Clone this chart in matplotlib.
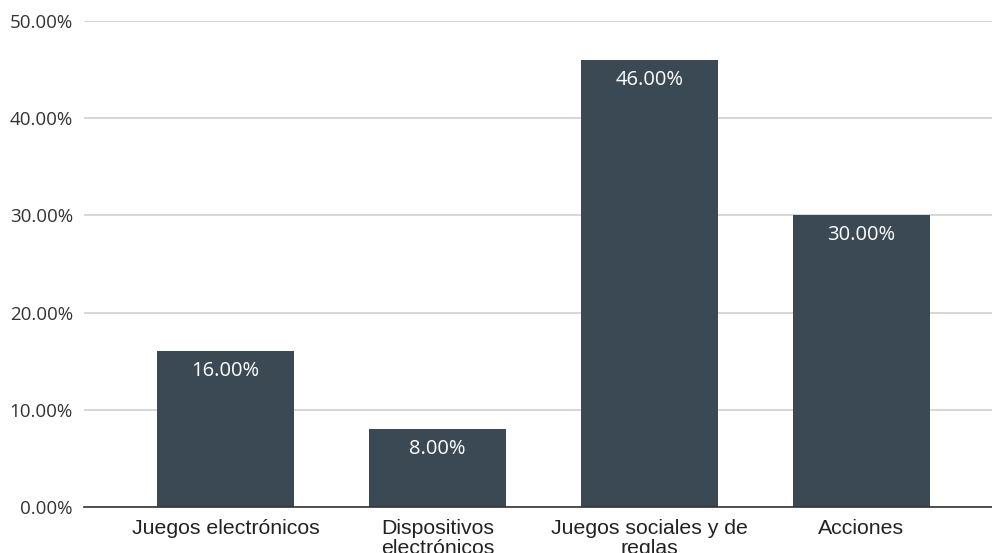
import matplotlib.pyplot as plt
import numpy as np

categorias = ['Juegos electrónicos', 'Dispositivos\nelectrónicos',
              'Juegos sociales y de\nreglas', 'Acciones']
valores = [16.0, 8.0, 46.0, 30.0]
ticks_y = [0, 10, 20, 30, 40, 50]

color_barra = '#3b4955'

fig = plt.figure(figsize=(9.92, 5.53), dpi=100)
ax = fig.add_axes([84 / 992, 1 - 507 / 553, 1 - 84 / 992, (507 - 21) / 553])

x = np.arange(len(categorias))
barras = ax.bar(x, valores, width=0.646, color=color_barra, zorder=3)

for b, v in zip(barras, valores):
    ax.text(b.get_x() + b.get_width() / 2, v - 1.0, f'{v:.2f}%',
            ha='center', va='top', color='white', fontsize=14.5,
            family='Open Sans', zorder=4)

ax.set_xlim(-0.667, 3.616)
ax.set_ylim(0, 50)
ax.set_yticks(ticks_y)
ax.set_yticklabels([f'{t:.2f}%' for t in ticks_y], family='Open Sans',
                   fontsize=13.5, color='#333333')
ax.set_xticks(x)
ax.set_xticklabels(categorias, family='Liberation Sans', fontsize=15.3,
                   color='#222222', linespacing=1.05)
ax.tick_params(axis='both', length=0)
ax.tick_params(axis='y', pad=8)
ax.tick_params(axis='x', pad=8.5)

ax.grid(axis='y', color='#d0d0d0', linewidth=1.2, zorder=0)
for s in ['top', 'right', 'left']:
    ax.spines[s].set_visible(False)
ax.spines['bottom'].set_color('#333333')
ax.spines['bottom'].set_linewidth(1.2)
ax.spines['bottom'].set_zorder(5)

fig.savefig('out.png', dpi=100)
